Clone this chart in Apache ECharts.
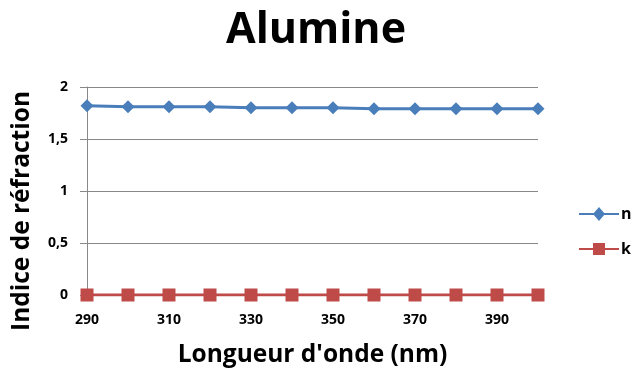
<!DOCTYPE html>
<html><head><meta charset="utf-8">
<script src="https://cdn.jsdelivr.net/npm/echarts@6/dist/echarts.min.js"></script>
<style>html,body{margin:0;padding:0;background:#fff}#c{width:636px;height:372px}</style>
</head><body><div id="c"></div>
<script>
const wavelengths = ['290','300','310','320','330','340','350','360','370','380','390','400'];
const nValues = [1.82, 1.81, 1.81, 1.81, 1.80, 1.80, 1.80, 1.79, 1.79, 1.79, 1.79, 1.79];
const kValues = [0, 0, 0, 0, 0, 0, 0, 0, 0, 0, 0, 0];
const yTicks = {0:'0', 0.5:'0,5', 1:'1', 1.5:'1,5', 2:'2'};
const FONT = 'Open Sans';
const chart = echarts.init(document.getElementById('c'));
chart.setOption({
  animation: false,
  backgroundColor: '#fff',
  title: {text: 'Alumine', left: 311, top: 4, textAlign: 'center',
    textStyle: {fontFamily: FONT, fontSize: 43, fontWeight: 'bold', color: '#000'}},
  grid: {left: 87, right: 98, top: 87, bottom: 77, outerBoundsMode: 'none', containLabel: false},
  legend: {
    orient: 'vertical', left: 574, top: 201, itemGap: 19, itemWidth: 40, itemHeight: 14,
    textStyle: {fontFamily: FONT, fontSize: 16, fontWeight: 'bold', color: '#000', padding: [0,0,0,-3]},
    data: [{name: 'n', icon: 'path://M0,6 L40,6 L40,8 L0,8 Z M20,0 L26,7 L20,14 L14,7 Z'},
           {name: 'k', icon: 'path://M0,6 L40,6 L40,8 L0,8 Z M14,1 L26,1 L26,13 L14,13 Z'}]
  },
  xAxis: {
    type: 'category', data: wavelengths, boundaryGap: false,
    name: "Longueur d'onde (nm)", nameLocation: 'middle', nameGap: 48,
    nameTextStyle: {fontFamily: FONT, fontSize: 24.5, fontWeight: 'bold', color: '#000'},
    axisLine: {lineStyle: {color: '#888'}}, axisTick: {show: false},
    axisLabel: {interval: 1, margin: 18, fontFamily: FONT, fontSize: 14, fontWeight: 'bold', color: '#000'}
  },
  yAxis: {
    type: 'value', min: 0, max: 2, interval: 0.5,
    name: 'Indice de réfraction', nameLocation: 'middle', nameGap: 52, nameRotate: 90,
    nameTextStyle: {fontFamily: FONT, fontSize: 24.5, fontWeight: 'bold', color: '#000', padding: [0, 40, 0, 0]},
    axisLine: {show: true, lineStyle: {color: '#888'}},
    axisTick: {show: true, length: 7, lineStyle: {color: '#888'}},
    splitLine: {lineStyle: {color: '#888'}},
    axisLabel: {margin: 19, fontFamily: FONT, fontSize: 14, fontWeight: 'bold', color: '#000',
      formatter: v => yTicks[v] !== undefined ? yTicks[v] : ''}
  },
  series: [
    {name: 'n', type: 'line', data: nValues, symbol: 'diamond', symbolSize: 13,
     color: '#4A7EBB', lineStyle: {width: 3, color: '#4A7EBB'}, itemStyle: {color: '#4A7EBB'}},
    {name: 'k', type: 'line', data: kValues, symbol: 'rect', symbolSize: 13,
     color: '#BE4B48', lineStyle: {width: 3, color: '#BE4B48'}, itemStyle: {color: '#BE4B48'}}
  ]
});
</script></body></html>
